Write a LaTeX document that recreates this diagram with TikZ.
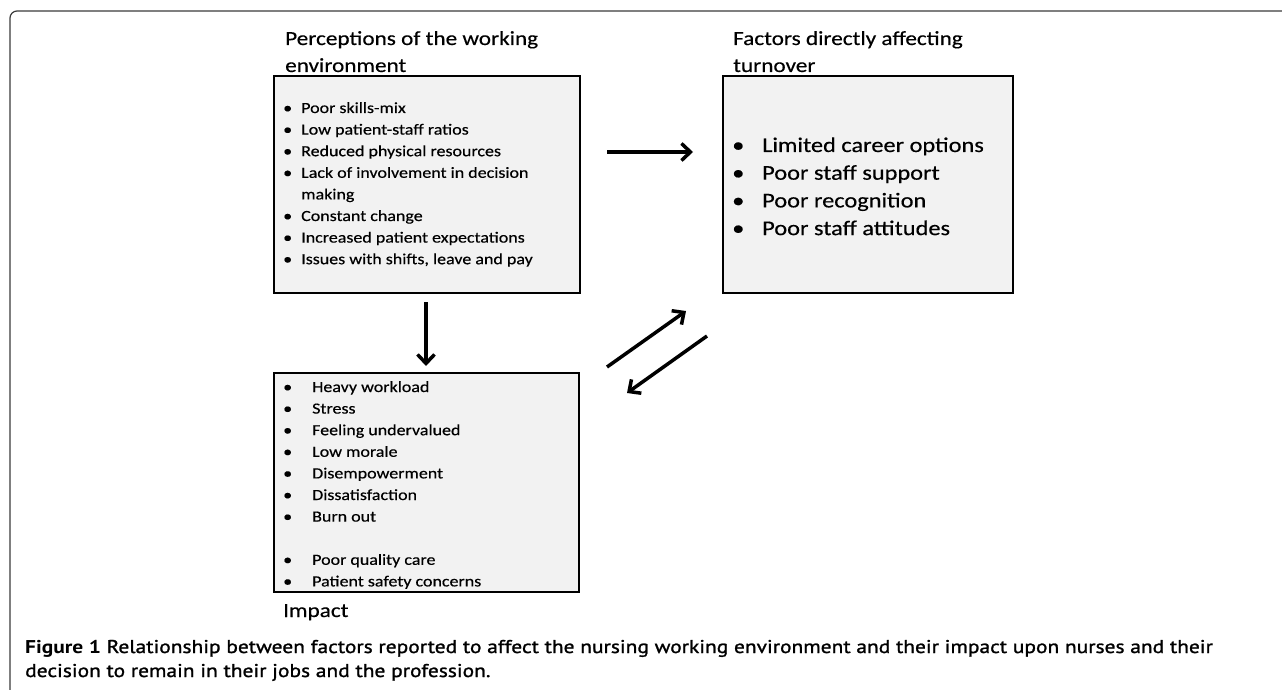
\documentclass[tikz,border=0pt]{standalone}
\usepackage{fontspec}
\setmainfont{Carlito}[FakeStretch=1.16,FakeBold=0.4]
\newfontfamily\capfont[FakeStretch=1.16]{PT Sans}
\newfontfamily\capsemi[FakeBold=1.3,FakeStretch=1.16]{PT Sans}
\usetikzlibrary{arrows.meta}
\definecolor{boxgray}{HTML}{F2F2F2}
\definecolor{framegray}{HTML}{3A3A3A}
\begin{document}
\begin{tikzpicture}[x=1pt,y=-1pt,
  box/.style={draw=black,line width=2.6pt,fill=boxgray,rectangle,inner sep=0pt},
  arr/.style={line width=3.5pt,-{Straight Barb[length=9pt,width=17pt,line width=3.5pt]}},
  ttl/.style={anchor=base west,inner sep=0pt,font=\fontsize{20}{24}\selectfont},
  lst/.style={anchor=base west,inner sep=0pt},
  captxt/.style={anchor=base west,inner sep=0pt,font=\capsemi\fontsize{18.5}{22}\selectfont}]
\useasboundingbox (0,0) rectangle (1282,690);
% frame
\draw[framegray,line width=1.2pt,rounded corners=7pt] (10,690) -- (10,11) -- (1282,11);
% boxes
\node[box,minimum width=306pt,minimum height=217pt] (b1) at (427,184.5) {};
\node[box,minimum width=290pt,minimum height=217pt] (b2) at (868,184.5) {};
\node[box,minimum width=305pt,minimum height=219pt] (b3) at (426.5,482.5) {};
% titles
\node[ttl] (t1a) at (285,45) {Perceptions of the working};
\node[ttl] (t1b) at (285,72) {environment};
\node[ttl] (t2a) at (733,45) {Factors directly affecting};
\node[ttl] (t2b) at (733,72) {turnover};
\node[ttl] (t3) at (283,617) {Impact};
% lists
\node[lst,font=\fontsize{15.5}{21.6}\selectfont] (l1) at (283,113) {\begin{tabular}[t]{@{}p{18pt}@{}l@{}}
• & Poor skills-mix\\
• & Low patient-staff ratios\\
• & Reduced physical resources\\
• & Lack of involvement in decision\\
  & making\\
• & Constant change\\
• & Increased patient expectations\\
• & Issues with shifts, leave and pay
\end{tabular}};
\node[lst,font=\fontsize{21}{27.7}\selectfont] (l2) at (732,152) {\begin{tabular}[t]{@{}p{30pt}@{}l@{}}
• & Limited career options\\
• & Poor staff support\\
• & Poor recognition\\
• & Poor staff attitudes
\end{tabular}};
\node[lst,font=\fontsize{15.5}{21.6}\selectfont] (l3) at (283,392) {\begin{tabular}[t]{@{}p{29pt}@{}l@{}}
• & Heavy workload\\
• & Stress\\
• & Feeling undervalued\\
• & Low morale\\
• & Disempowerment\\
• & Dissatisfaction\\
• & Burn out\\
  & \\
• & Poor quality care\\
• & Patient safety concerns
\end{tabular}};
% arrows
\coordinate (h1) at (607,152);
\coordinate (h2) at (693,152);
\coordinate (v1) at (426,302);
\coordinate (v2) at (426,366);
\coordinate (d1) at (607,367);
\coordinate (d2) at (686,311);
\coordinate (e1) at (707,336);
\coordinate (e2) at (627,393);
\draw[arr] (h1) -- (h2);
\draw[arr] (v1) -- (v2);
\draw[arr] (d1) -- (d2);
\draw[arr] (e1) -- (e2);
% caption
\node[captxt] (c1) at (25,653) {{\capfont\bfseries Figure 1} Relationship between factors reported to affect the nursing working environment and their impact upon nurses and their};
\node[captxt] (c2) at (25,677) {decision to remain in their jobs and the profession.};
\end{tikzpicture}
\end{document}
